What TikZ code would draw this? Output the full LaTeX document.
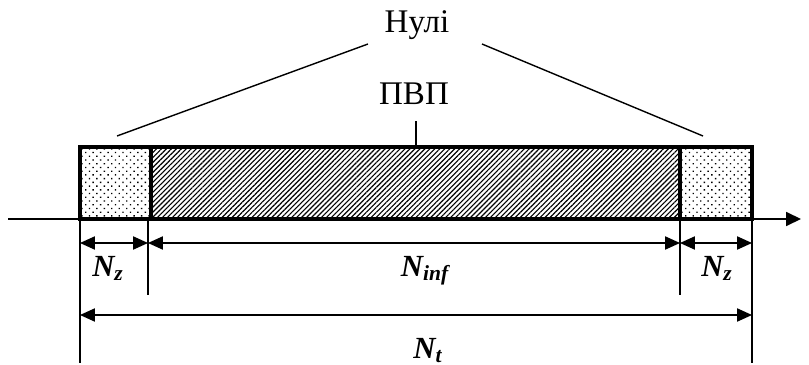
\documentclass[tikz,border=0pt]{standalone}
\usepackage{fontspec}
\setmainfont{Liberation Serif}
\usetikzlibrary{arrows.meta,patterns.meta}

\begin{document}
\begin{tikzpicture}[x=0.02cm,y=-0.02cm,
  dim/.style={line width=0.8pt,{Triangle[length=8.5pt,width=7.5pt]}-{Triangle[length=8.5pt,width=7.5pt]}},
  ext/.style={line width=0.8pt},
  lbl/.style={font=\fontsize{17.5}{20}\selectfont\bfseries\itshape,inner sep=0pt,anchor=base},
  ttl/.style={font=\fontsize{18.8}{22}\selectfont,inner sep=0pt,anchor=base}]
\useasboundingbox (0,0) rectangle (809,365);

% Zeros (dots) and useful part (hatch)
\fill[pattern={Dots[radius=0.55pt,distance=3pt,angle=45]}] (80,147) rectangle (151,219);
\fill[pattern={Dots[radius=0.55pt,distance=3pt,angle=45]}] (680,147) rectangle (752,219);
\fill[pattern={Lines[angle=45,distance=2pt,line width=0.65pt]}] (151,147) rectangle (680,219);
\draw[line width=1.8pt] (80,147) rectangle (752,219);
\draw[line width=1.8pt] (151,147) -- (151,219) (680,147) -- (680,219);

% Axis
\coordinate (ax0) at (8,219);
\coordinate (ax1) at (801,219);
\draw[ext,-{Triangle[length=8.5pt,width=8pt]}] (ax0) -- (ax1);

% Extension lines
\coordinate (b0) at (80,219);
\coordinate (b1) at (148,219);
\coordinate (b2) at (680,219);
\coordinate (b3) at (752,219);
\draw[ext] (b0) -- ++(0,144);
\draw[ext] (b1) -- ++(0,76);
\draw[ext] (b2) -- ++(0,76);
\draw[ext] (b3) -- ++(0,144);

% Dimensions
\foreach \a/\b in {b0/b1,b1/b2,b2/b3}
  \draw[dim] ([yshift=-24*0.02cm]\a) -- ([yshift=-24*0.02cm]\b);
\draw[dim] ([yshift=-96*0.02cm]b0) -- ([yshift=-96*0.02cm]b3);

\node[lbl] (nz1) at (108,276) {N\textsubscript{z}};
\node[lbl] (ninf) at (425,276) {N\textsubscript{inf}};
\node[lbl] (nz2) at (717,276) {N\textsubscript{z}};
\node[lbl] (nt) at (428,358) {N\textsubscript{t}};

% Labels on top
\node[ttl] (nuli) at (417,32) {Нулі};
\node[ttl] (pvp) at (414,104) {ПВП};
\coordinate (zl) at (117,136);
\coordinate (zr) at (703,136);
\draw[ext] (368,44) -- (zl);
\draw[ext] (482,44) -- (zr);
\draw[ext] (416,121) -- (416,147);

\end{tikzpicture}
\end{document}
